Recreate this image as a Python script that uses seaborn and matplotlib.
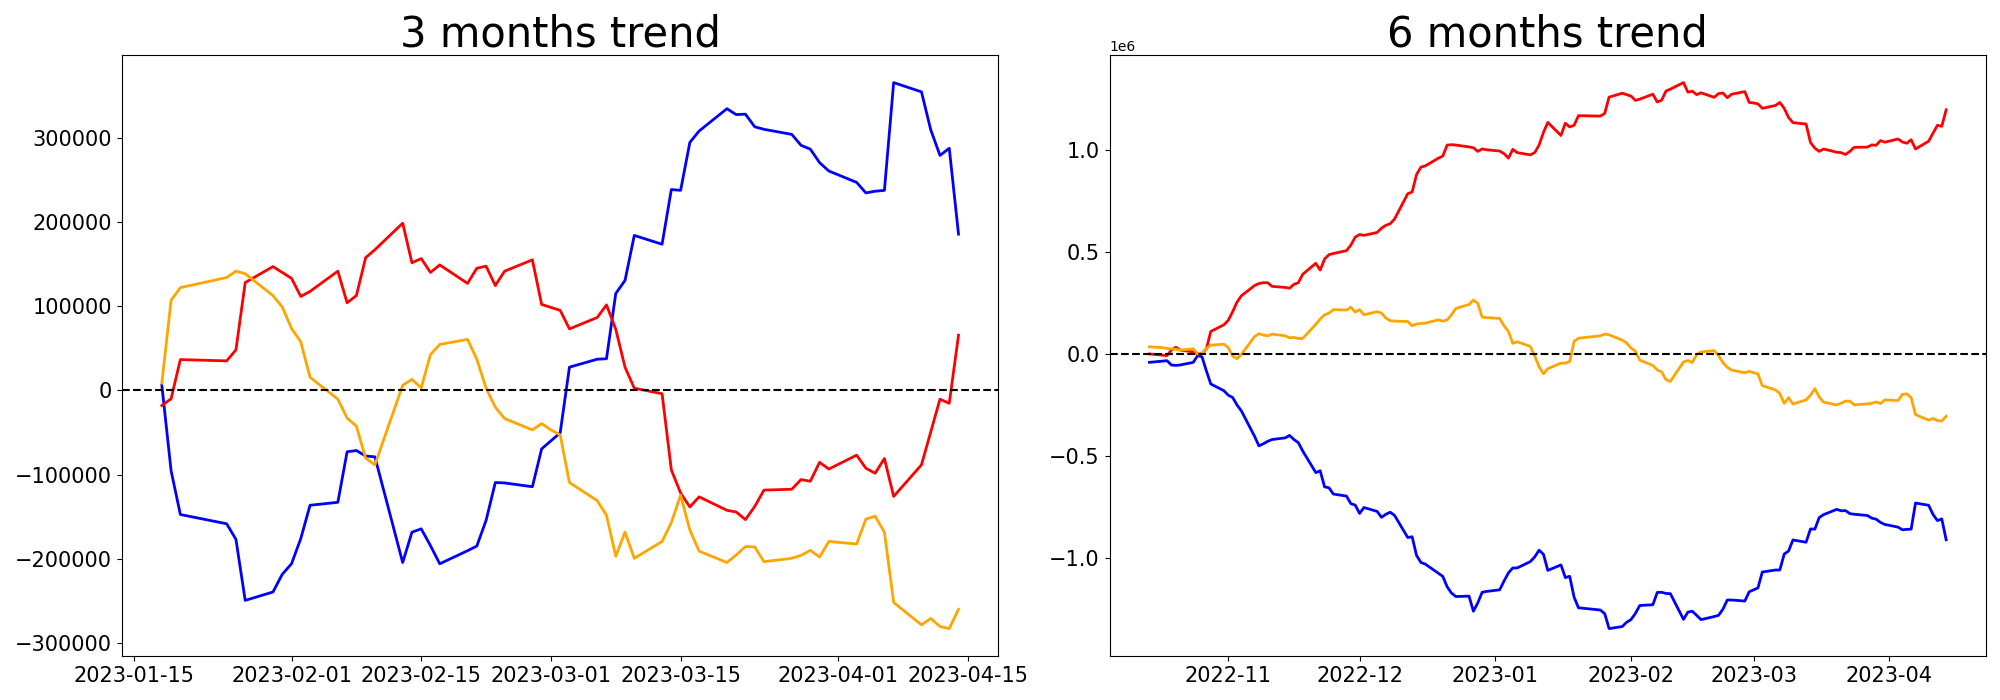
import pandas as pd
import numpy as np
import matplotlib
matplotlib.use('Agg')
import matplotlib.pyplot as plt
import seaborn as sns

# trading days (no data on 23/24 Jan)
holidays = ['2023-01-23', '2023-01-24']
dates_3m = pd.bdate_range('2023-01-18', '2023-04-14', freq='C', holidays=holidays)
dates_6m = pd.bdate_range('2022-10-14', '2023-04-14', freq='C', holidays=holidays)

# 3 months trend, values in thousands
blue_3m = [6, -95.5, -147.5, -158.5, -177, -249.5, -239.5, -218.5, -206, -176, -136.5,
           -133, -73, -71.5, -78, -79, -204.5, -168.5, -164.5, -184.5, -206, -190.5,
           -185, -154.5, -109.5, -110, -114.5, -69.5, -60, -50.5, 27.5, 37, 37.5, 115,
           130.5, 184, 173.5, 238.5, 237.5, 294.5, 308, 334.5, 327.5, 328, 313, 310, 304,
           291, 286.5, 270.5, 260.5, 247, 234.5, 236.5, 237.5, 365.5, 354.5, 309.5, 279,
           287.5, 185.5]
red_3m = [-18, -10, 36.5, 35, 48, 128, 147, 140, 133, 111.5, 117.5, 141.5, 104, 112.5,
          157.5, 167, 198.5, 151.5, 156.5, 140, 149, 127, 145, 147.5, 124.5, 141.5, 155,
          102, 98.5, 95, 73, 86.5, 101.5, 72.5, 27.5, 2.5, -4, -94.5, -122, -138.5,
          -126.5, -142.5, -144.5, -153.5, -138, -118.5, -117.5, -106, -108, -85.5, -93.5,
          -77, -92.5, -98.5, -81, -126, -88.5, -49.5, -10.5, -15.5, 65.5]
orange_3m = [8.5, 107, 122, 134, 141.5, 138.5, 112.5, 99, 73.5, 57.5, 15.5, -10.5, -33,
             -42.5, -80.5, -88.5, 6, 13, 3, 42.5, 54.5, 60.5, 37, 2.5, -20, -33.5, -47,
             -39.5, -47, -53, -109.5, -131, -148.5, -197, -168.5, -199.5, -179.5, -157,
             -124.5, -166, -191, -204.5, -195.5, -185.5, -186, -203.5, -199.5, -196, -190,
             -198, -179.5, -182.5, -153, -149.5, -168.5, -252, -278.5, -271, -280.5, -283,
             -260]

# 6 months trend, values in millions
blue_6m = [-0.041, -0.035, -0.033, -0.054, -0.056, -0.054, -0.041, -0.008, -0.014, -0.083, -0.147, -0.180,
           -0.202, -0.213, -0.250, -0.279, -0.403, -0.450, -0.440, -0.428, -0.419, -0.411, -0.399,
           -0.419, -0.434, -0.475, -0.581, -0.572, -0.651, -0.655, -0.686, -0.696, -0.733, -0.740,
           -0.781, -0.752, -0.771, -0.800, -0.785, -0.775, -0.791, -0.899, -0.895, -0.986, -1.021,
           -1.029, -1.074, -1.089, -1.140, -1.171, -1.188, -1.186, -1.260, -1.219, -1.167, -1.163,
           -1.155, -1.112, -1.072, -1.048, -1.048, -1.017, -0.994, -0.961, -0.981, -1.060, -1.033,
           -1.095, -1.089, -1.191, -1.243, -1.254, -1.272, -1.345, -1.335, -1.314,
           -1.301, -1.271, -1.232, -1.228, -1.168, -1.167, -1.173, -1.174, -1.300, -1.264, -1.260,
           -1.280, -1.301, -1.286, -1.280, -1.250, -1.205, -1.205, -1.210, -1.165,
           -1.155, -1.146, -1.068, -1.058, -1.058, -0.980, -0.965, -0.911, -0.922, -0.857, -0.858,
           -0.801, -0.787, -0.761, -0.768, -0.767, -0.782, -0.785, -0.791, -0.804, -0.809, -0.825,
           -0.835,
           -0.848, -0.861, -0.859, -0.858, -0.730, -0.741, -0.786, -0.816, -0.808, -0.910]
red_6m = [0.000, -0.006, -0.008, 0.019, 0.033, 0.019, 0.010, 0.000, 0.002, 0.025, 0.110, 0.143,
          0.165, 0.207, 0.254, 0.285, 0.335, 0.345, 0.349, 0.349, 0.331, 0.326, 0.322, 0.341,
          0.349, 0.390, 0.444, 0.411, 0.465, 0.486, 0.492, 0.506, 0.533, 0.572,
          0.585, 0.581, 0.595, 0.616, 0.630, 0.638, 0.661, 0.785, 0.793, 0.878, 0.915, 0.921,
          0.959, 0.969, 1.023, 1.025, 1.023, 1.014, 1.010, 0.992, 1.004, 1.000,
          0.994, 0.981, 0.959, 1.002, 0.986, 0.975, 0.986, 1.023, 1.085, 1.134, 1.070, 1.130,
          1.112, 1.120, 1.167, 1.165, 1.178, 1.258, 1.277, 1.270,
          1.263, 1.242, 1.248, 1.272, 1.234, 1.243, 1.288, 1.297, 1.329, 1.282, 1.287, 1.270,
          1.279, 1.257, 1.275, 1.278, 1.255, 1.272, 1.285, 1.232,
          1.229, 1.225, 1.203, 1.217, 1.232, 1.203, 1.158, 1.133, 1.126, 1.036, 1.008, 0.992,
          1.004, 0.988, 0.986, 0.977, 0.992, 1.012, 1.013, 1.024, 1.022, 1.045, 1.037,
          1.053, 1.038, 1.032, 1.049, 1.004, 1.042, 1.081, 1.120, 1.115, 1.196]
orange_6m = [0.035, 0.031, 0.027, 0.025, 0.023, 0.019, 0.025, 0.000, 0.002, 0.027, 0.043, 0.048,
             0.031, -0.010, -0.023, -0.002, 0.085, 0.099, 0.093, 0.089, 0.097, 0.089, 0.079,
             0.081, 0.076, 0.076, 0.145, 0.171, 0.192, 0.200, 0.217, 0.215, 0.229, 0.205,
             0.217, 0.192, 0.207, 0.200, 0.176, 0.163, 0.161, 0.159, 0.138, 0.147, 0.149, 0.151,
             0.167, 0.161, 0.167, 0.192, 0.223, 0.242, 0.264, 0.248, 0.180, 0.178,
             0.174, 0.138, 0.110, 0.052, 0.060, 0.037, -0.010, -0.062, -0.097, -0.072, -0.045,
             -0.045, -0.037, 0.062, 0.077, 0.089, 0.097, 0.094, 0.068, 0.054,
             0.029, 0.013, -0.030, -0.056, -0.078, -0.088, -0.126, -0.134, -0.039, -0.032,
             -0.042, -0.003, 0.010, 0.016, -0.008, -0.043, -0.065, -0.079, -0.092, -0.085,
             -0.092, -0.098, -0.155, -0.176, -0.194, -0.242, -0.214, -0.245, -0.225, -0.202,
             -0.170, -0.211, -0.236, -0.250, -0.241, -0.231, -0.231, -0.249, -0.245, -0.241,
             -0.235, -0.243, -0.225,
             -0.228, -0.198, -0.195, -0.214, -0.297, -0.324, -0.316, -0.326, -0.328, -0.305]

colors = {'blue': 'blue', 'red': 'red', 'orange': 'orange'}


def to_long(dates, series, scale):
    frames = []
    for name, vals in series.items():
        frames.append(pd.DataFrame({'date': dates, 'value': np.array(vals) * scale, 'line': name}))
    return pd.concat(frames, ignore_index=True)


df_3m = to_long(dates_3m, {'blue': blue_3m, 'red': red_3m, 'orange': orange_3m}, 1e3)
df_6m = to_long(dates_6m, {'blue': blue_6m, 'red': red_6m, 'orange': orange_6m}, 1e6)

fig, axes = plt.subplots(1, 2, figsize=(20, 7))
for ax, df, title in zip(axes, [df_3m, df_6m], ['3 months trend', '6 months trend']):
    sns.lineplot(data=df, x='date', y='value', hue='line', palette=colors,
                 legend=False, ax=ax, linewidth=2)
    ax.axhline(0, color='black', linestyle='--', linewidth=1.5)
    ax.set_title(title, fontsize=30)
    ax.set_xlabel('')
    ax.set_ylabel('')
    ax.tick_params(labelsize=15)

plt.subplots_adjust(left=0.061, right=0.993, bottom=0.063, top=0.921, wspace=0.127)
plt.savefig('out.png', dpi=100)
